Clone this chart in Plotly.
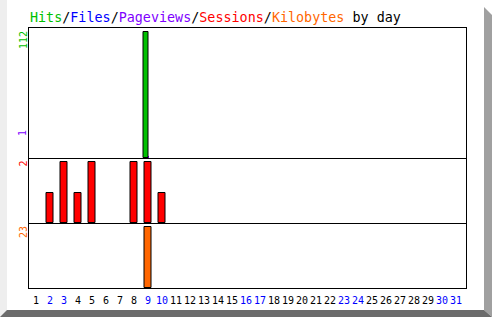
import plotly.graph_objects as go
from plotly.subplots import make_subplots

days = list(range(1, 32))
hits = [0]*31; hits[8] = 112
files = [0]*31
pageviews = [0]*31; pageviews[8] = 1
sessions = [0]*31
for d, v in {2: 1, 3: 2, 4: 1, 5: 2, 8: 2, 9: 2, 10: 1}.items():
    sessions[d-1] = v
kbytes = [0]*31; kbytes[8] = 23
weekend_days = [2, 3, 9, 10, 16, 17, 23, 24, 30, 31]

C_HITS = "#00c000"
C_FILES = "#0000ff"
C_PV = "#8000ff"
C_SESS = "#ff0000"
C_KB = "#ff6600"

W, H = 492, 317
def px(x): return x / W
def py(y): return 1 - y / H

def lw(vals):
    return [1 if v > 0 else 0 for v in vals]

fig = make_subplots(rows=3, cols=1, shared_xaxes=True, vertical_spacing=0)

fig.add_trace(go.Bar(x=days, y=pageviews, marker=dict(color=C_PV, line=dict(width=0)),
                     width=5/14, offset=-0.32), row=1, col=1)
fig.add_trace(go.Bar(x=days, y=files, marker=dict(color=C_FILES, line=dict(width=0)),
                     width=5/14, offset=-0.25), row=1, col=1)
fig.add_trace(go.Bar(x=days, y=hits, marker=dict(color=C_HITS, line=dict(color="black", width=lw(hits))),
                     width=5/14, offset=-0.32), row=1, col=1)
fig.add_trace(go.Bar(x=days, y=sessions, marker=dict(color=C_SESS, line=dict(color="black", width=lw(sessions))),
                     width=0.5), row=2, col=1)
fig.add_trace(go.Bar(x=days, y=kbytes, marker=dict(color=C_KB, line=dict(color="black", width=lw(kbytes))),
                     width=0.5), row=3, col=1)

xdom = [px(28.5), px(465.5)]
xr = [0.464, 31.68]
ydoms = [[py(158), py(28)], [py(223), py(158)], [py(288), py(223)]]
yranges = [[0, 112*130/126], [0, 2*65/61], [0, 23*65/61]]

ticktext = [f'<span style="color:{"#0000ff" if d in weekend_days else "#000000"}">{d}</span>' for d in days]

for i in range(3):
    xa = "xaxis" if i == 0 else f"xaxis{i+1}"
    ya = "yaxis" if i == 0 else f"yaxis{i+1}"
    fig.layout[xa].update(domain=xdom, range=xr, showline=True, mirror=(i == 0), linecolor="black",
                          linewidth=1, showgrid=False, zeroline=False, ticks="",
                          showticklabels=(i == 2), fixedrange=True)
    fig.layout[ya].update(domain=ydoms[i], range=yranges[i], showline=True, mirror=True,
                          linecolor="black", linewidth=1, showgrid=False, zeroline=False,
                          ticks="", showticklabels=False, fixedrange=True)

fig.layout.xaxis3.update(tickmode="array", tickvals=days, ticktext=ticktext,
                         tickfont=dict(family="DejaVu Sans Mono", size=10, color="black"),
                         tickangle=0, ticklabelstandoff=3)

title = (f'<span style="color:{C_HITS}">Hits</span>/<span style="color:{C_FILES}">Files</span>/'
         f'<span style="color:{C_PV}">Pageviews</span>/<span style="color:{C_SESS}">Sessions</span>/'
         f'<span style="color:{C_KB}">Kilobytes</span> by day')

ann = [dict(text=title, x=px(27.5), y=py(17), xref="paper", yref="paper", xanchor="left",
            yanchor="middle", showarrow=False, font=dict(family="DejaVu Sans Mono", size=13.4, color="black"))]
ylabels = [("112", C_HITS, 29), ("1", C_PV, 128), ("2", C_SESS, 158.5), ("23", C_KB, 224)]
for t, c, ytop in ylabels:
    ann.append(dict(text=t, x=px(23), y=py(ytop), xref="paper", yref="paper", xanchor="center",
                    yanchor="top", textangle=-90, showarrow=False,
                    font=dict(family="DejaVu Sans Mono", size=10, color=c)))

shapes = [
    dict(type="rect", xref="paper", yref="paper", x0=0, x1=px(7), y0=0, y1=1,
         fillcolor="#eeeeee", line=dict(width=0), layer="below"),
    dict(type="path", xref="paper", yref="paper",
         path=f"M {px(484)} {py(7)} L {px(492)} {py(15)} L {px(492)} {py(317)} L {px(484)} {py(310)} Z",
         fillcolor="#a0a0a0", line=dict(width=0), layer="below"),
    dict(type="path", xref="paper", yref="paper",
         path=f"M 0 {py(317)} L {px(7)} {py(310)} L {px(484)} {py(310)} L {px(492)} {py(317)} Z",
         fillcolor="#6b6b6b", line=dict(width=0), layer="below"),
]

fig.update_layout(width=W, height=H, margin=dict(l=0, r=0, t=0, b=0), autosize=False,
                  paper_bgcolor="white", plot_bgcolor="white", showlegend=False,
                  barmode="overlay", annotations=ann, shapes=shapes, bargap=0)

fig.write_html("out.html", config={"displayModeBar": False})
